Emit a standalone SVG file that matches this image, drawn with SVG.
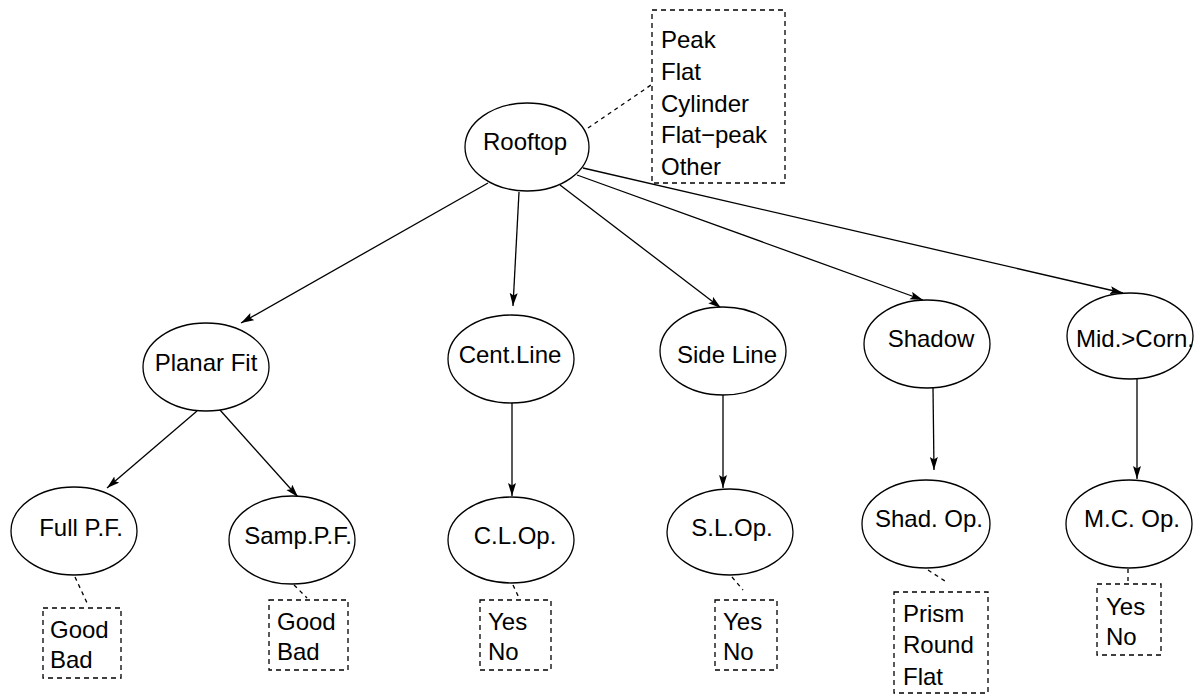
<svg xmlns="http://www.w3.org/2000/svg" width="1201" height="696" viewBox="0 0 1201 696">
  <defs>
    <style>
      .node { fill: #ffffff; stroke: #000000; stroke-width: 1.3; }
      .box { fill: none; stroke: #000000; stroke-width: 1.3; stroke-dasharray: 5 4; }
      .edge { fill: none; stroke: #000000; stroke-width: 1.3; }
      .link { fill: none; stroke: #000000; stroke-width: 1.3; stroke-dasharray: 4 4; }
      text { font-family: "Liberation Sans", Arial, Helvetica, sans-serif; font-size: 24px; fill: #000000; }
      .c { text-anchor: middle; }
    </style>
    <marker id="arrow" markerUnits="userSpaceOnUse" markerWidth="14" markerHeight="10" refX="13" refY="4" orient="auto">
      <path d="M0,0 L13,4 L0,8 L2.5,4 z" fill="#000000"/>
    </marker>
  </defs>
  <rect width="1201" height="696" fill="#ffffff"/>

  <!-- connectors -->
  <g id="connectors">
    <line class="edge" x1="488" y1="183" x2="241" y2="323" marker-end="url(#arrow)"/>
    <line class="edge" x1="519" y1="192" x2="513" y2="306" marker-end="url(#arrow)"/>
    <line class="edge" x1="560" y1="185" x2="721" y2="308" marker-end="url(#arrow)"/>
    <line class="edge" x1="577" y1="175" x2="923" y2="300" marker-end="url(#arrow)"/>
    <line class="edge" x1="583" y1="168" x2="1123" y2="293" marker-end="url(#arrow)"/>
    <line class="edge" x1="197" y1="411" x2="107" y2="488" marker-end="url(#arrow)"/>
    <line class="edge" x1="220" y1="410" x2="298" y2="497" marker-end="url(#arrow)"/>
    <line class="edge" x1="512" y1="403" x2="512" y2="496" marker-end="url(#arrow)"/>
    <line class="edge" x1="723" y1="395" x2="723" y2="488" marker-end="url(#arrow)"/>
    <line class="edge" x1="933" y1="388" x2="934" y2="470" marker-end="url(#arrow)"/>
    <line class="edge" x1="1137" y1="378" x2="1137" y2="479" marker-end="url(#arrow)"/>
    <!-- dashed attribute links -->
    <line class="link" x1="588" y1="128" x2="651" y2="85"/>
    <line class="link" x1="75" y1="577" x2="88" y2="605"/>
    <line class="link" x1="294" y1="585" x2="307" y2="598"/>
    <line class="link" x1="513" y1="585" x2="520" y2="600"/>
    <line class="link" x1="732" y1="577" x2="743" y2="590"/>
    <line class="link" x1="928" y1="570" x2="948" y2="583"/>
    <line class="link" x1="1128" y1="569" x2="1128" y2="584"/>
  </g>

  <!-- root -->
  <g id="rooftop">
    <ellipse class="node" cx="527" cy="147" rx="62" ry="44"/>
    <text class="c" x="525" y="150">Rooftop</text>
  </g>
  <g id="rooftop-values">
    <rect class="box" x="652" y="10" width="133" height="173"/>
    <text x="661" y="48">Peak</text>
    <text x="661" y="80">Flat</text>
    <text x="661" y="112">Cylinder</text>
    <text x="661" y="143">Flat−peak</text>
    <text x="661" y="175">Other</text>
  </g>

  <!-- second level -->
  <g id="planar-fit">
    <ellipse class="node" cx="206" cy="367" rx="63" ry="44"/>
    <text class="c" x="206" y="371">Planar Fit</text>
  </g>
  <g id="cent-line">
    <ellipse class="node" cx="511" cy="359" rx="63" ry="44"/>
    <text class="c" x="510" y="363">Cent.Line</text>
  </g>
  <g id="side-line">
    <ellipse class="node" cx="723" cy="351" rx="63" ry="44"/>
    <text class="c" x="727" y="363">Side Line</text>
  </g>
  <g id="shadow">
    <ellipse class="node" cx="927" cy="344" rx="63" ry="44"/>
    <text class="c" x="931" y="347">Shadow</text>
  </g>
  <g id="mid-corn">
    <ellipse class="node" cx="1130" cy="336" rx="63" ry="43"/>
    <text class="c" x="1135" y="347">Mid.&gt;Corn.</text>
  </g>

  <!-- third level -->
  <g id="full-pf">
    <ellipse class="node" cx="74" cy="531" rx="63" ry="44"/>
    <text class="c" x="81" y="536">Full P.F.</text>
  </g>
  <g id="samp-pf">
    <ellipse class="node" cx="292" cy="540" rx="63" ry="44"/>
    <text class="c" x="298" y="544">Samp.P.F.</text>
  </g>
  <g id="cl-op">
    <ellipse class="node" cx="511" cy="540" rx="63" ry="43"/>
    <text class="c" x="515" y="544">C.L.Op.</text>
  </g>
  <g id="sl-op">
    <ellipse class="node" cx="730" cy="532" rx="63" ry="43"/>
    <text class="c" x="732" y="536">S.L.Op.</text>
  </g>
  <g id="shad-op">
    <ellipse class="node" cx="926" cy="524" rx="64" ry="44"/>
    <text class="c" x="929" y="527">Shad. Op.</text>
  </g>
  <g id="mc-op">
    <ellipse class="node" cx="1129" cy="524" rx="63" ry="44"/>
    <text class="c" x="1132" y="527">M.C. Op.</text>
  </g>

  <!-- value boxes -->
  <g id="full-pf-values">
    <rect class="box" x="43" y="608" width="78" height="70"/>
    <text x="50" y="638">Good</text>
    <text x="50" y="668">Bad</text>
  </g>
  <g id="samp-pf-values">
    <rect class="box" x="269" y="600" width="79" height="70"/>
    <text x="277" y="630">Good</text>
    <text x="277" y="660">Bad</text>
  </g>
  <g id="cl-op-values">
    <rect class="box" x="480" y="600" width="71" height="70"/>
    <text x="488" y="630">Yes</text>
    <text x="488" y="660">No</text>
  </g>
  <g id="sl-op-values">
    <rect class="box" x="715" y="600" width="62" height="70"/>
    <text x="723" y="630">Yes</text>
    <text x="723" y="660">No</text>
  </g>
  <g id="shad-op-values">
    <rect class="box" x="894" y="592" width="94" height="101"/>
    <text x="903" y="622">Prism</text>
    <text x="903" y="653">Round</text>
    <text x="903" y="685">Flat</text>
  </g>
  <g id="mc-op-values">
    <rect class="box" x="1097" y="584" width="64" height="71"/>
    <text x="1106" y="615">Yes</text>
    <text x="1106" y="645">No</text>
  </g>
</svg>
